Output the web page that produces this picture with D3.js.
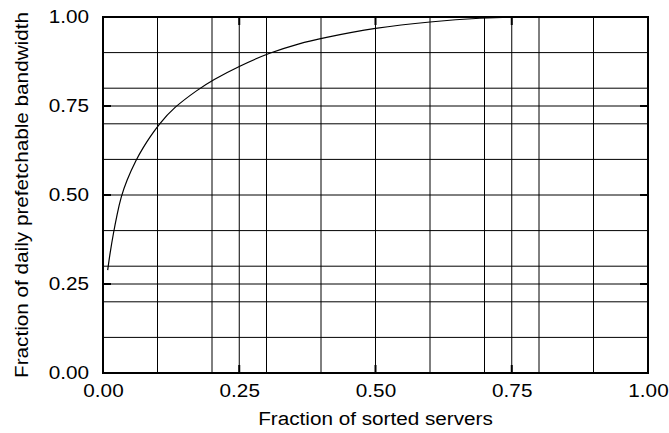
<!DOCTYPE html>
<html>
<head>
<meta charset="utf-8">
<script src="https://cdn.jsdelivr.net/npm/d3@7"></script>
<style>
  body { margin: 0; background: #fff; }
  text { font-family: "Liberation Sans", Arial, sans-serif; fill: #000; }
</style>
</head>
<body>
<svg id="chart"></svg>
<script>
// values
const serverFrac = [0.0086, 0.0128, 0.019, 0.026, 0.033, 0.043, 0.061, 0.074, 0.086, 0.103, 0.129, 0.175,
  0.2, 0.25, 0.306, 0.361, 0.4, 0.5, 0.6, 0.7, 0.75, 0.8];
const bandwidthFrac = [0.289, 0.336, 0.392, 0.447, 0.494, 0.540, 0.600, 0.634, 0.663, 0.699, 0.745, 0.797,
  0.822, 0.862, 0.90, 0.926, 0.940, 0.970, 0.987, 0.998, 1.0, 1.0];

const gridX = [0.1, 0.2, 0.25, 0.3, 0.4, 0.5, 0.6, 0.7, 0.75, 0.8, 0.9];
const gridY = [0.1, 0.2, 0.25, 0.3, 0.4, 0.5, 0.6, 0.7, 0.75, 0.8, 0.9];
const majorTicks = [0, 0.25, 0.5, 0.75, 1];

const config = {
  width: 669,
  height: 433,
  margin: { top: 17, right: 21, bottom: 60, left: 103 },
  fontSize: 18,
  // the reference lettering is a little wider than Arial at the same height
  stretch: 1.15,
};

const innerW = config.width - config.margin.left - config.margin.right;
const innerH = config.height - config.margin.top - config.margin.bottom;

const svg = d3.select('#chart')
  .attr('width', config.width)
  .attr('height', config.height);

const chart = svg.append('g')
  .attr('transform', `translate(${config.margin.left},${config.margin.top})`);

const xScale = d3.scaleLinear().domain([0, 1]).range([0, innerW]);
const yScale = d3.scaleLinear().domain([0, 1]).range([innerH, 0]);

// grid lines
chart.selectAll('.grid-x')
  .data(gridX)
  .join('line')
  .attr('class', 'grid-x')
  .attr('x1', (d) => xScale(d))
  .attr('x2', (d) => xScale(d))
  .attr('y1', 0)
  .attr('y2', innerH)
  .attr('stroke', '#000')
  .attr('stroke-width', 1);

chart.selectAll('.grid-y')
  .data(gridY)
  .join('line')
  .attr('class', 'grid-y')
  .attr('x1', 0)
  .attr('x2', innerW)
  .attr('y1', (d) => yScale(d))
  .attr('y2', (d) => yScale(d))
  .attr('stroke', '#000')
  .attr('stroke-width', 1);

// axes: labels outside, short inward ticks drawn separately
const xAxis = d3.axisBottom(xScale)
  .tickValues(majorTicks)
  .tickSize(0)
  .tickPadding(11)
  .tickFormat(d3.format('.2f'));

const yAxis = d3.axisLeft(yScale)
  .tickValues(majorTicks)
  .tickSize(0)
  .tickPadding(14)
  .tickFormat(d3.format('.2f'));

chart.append('g')
  .attr('transform', `translate(0,${innerH})`)
  .call(xAxis)
  .call((g) => g.select('.domain').remove())
  .call((g) => g.selectAll('text').attr('font-size', config.fontSize).attr('font-family', '"Liberation Sans", Arial, sans-serif'));

chart.append('g')
  .call(yAxis)
  .call((g) => g.select('.domain').remove())
  .call((g) => g.selectAll('text').attr('font-size', config.fontSize).attr('font-family', '"Liberation Sans", Arial, sans-serif'));

// inward tick marks on all four sides
const tickLen = 8;
const inner = majorTicks.slice(1, -1);
chart.selectAll('.tick-left')
  .data(inner)
  .join('line')
  .attr('x1', 0).attr('x2', tickLen)
  .attr('y1', (d) => yScale(d)).attr('y2', (d) => yScale(d))
  .attr('stroke', '#000').attr('stroke-width', 2);
chart.selectAll('.tick-right')
  .data(inner)
  .join('line')
  .attr('x1', innerW - tickLen).attr('x2', innerW)
  .attr('y1', (d) => yScale(d)).attr('y2', (d) => yScale(d))
  .attr('stroke', '#000').attr('stroke-width', 2);
chart.selectAll('.tick-bottom')
  .data(inner)
  .join('line')
  .attr('x1', (d) => xScale(d)).attr('x2', (d) => xScale(d))
  .attr('y1', innerH - tickLen).attr('y2', innerH)
  .attr('stroke', '#000').attr('stroke-width', 2);
chart.selectAll('.tick-top')
  .data(inner)
  .join('line')
  .attr('x1', (d) => xScale(d)).attr('x2', (d) => xScale(d))
  .attr('y1', 0).attr('y2', tickLen)
  .attr('stroke', '#000').attr('stroke-width', 2);

// frame
chart.append('rect')
  .attr('x', 0)
  .attr('y', 0)
  .attr('width', innerW)
  .attr('height', innerH)
  .attr('fill', 'none')
  .attr('stroke', '#000')
  .attr('stroke-width', 2);

// curve
const points = serverFrac.map((x, i) => [x, bandwidthFrac[i]]);
const line = d3.line()
  .x((d) => xScale(d[0]))
  .y((d) => yScale(d[1]))
  .curve(d3.curveBasis);

chart.append('path')
  .datum(points)
  .attr('d', line)
  .attr('fill', 'none')
  .attr('stroke', '#000')
  .attr('stroke-width', 1.2);

// axis titles
svg.append('text')
  .attr('x', config.margin.left + innerW / 2)
  .attr('y', 425)
  .attr('text-anchor', 'middle')
  .attr('font-size', config.fontSize)
  .text('Fraction of sorted servers');

svg.append('text')
  .attr('transform', `translate(28,${config.margin.top + innerH / 2}) rotate(-90)`)
  .attr('text-anchor', 'middle')
  .attr('font-size', config.fontSize)
  .text('Fraction of daily prefetchable bandwidth');

// widen all lettering a bit
svg.selectAll('text').each(function () {
  const len = this.getComputedTextLength();
  d3.select(this)
    .attr('textLength', len * config.stretch)
    .attr('lengthAdjust', 'spacingAndGlyphs');
});
</script>
</body>
</html>
